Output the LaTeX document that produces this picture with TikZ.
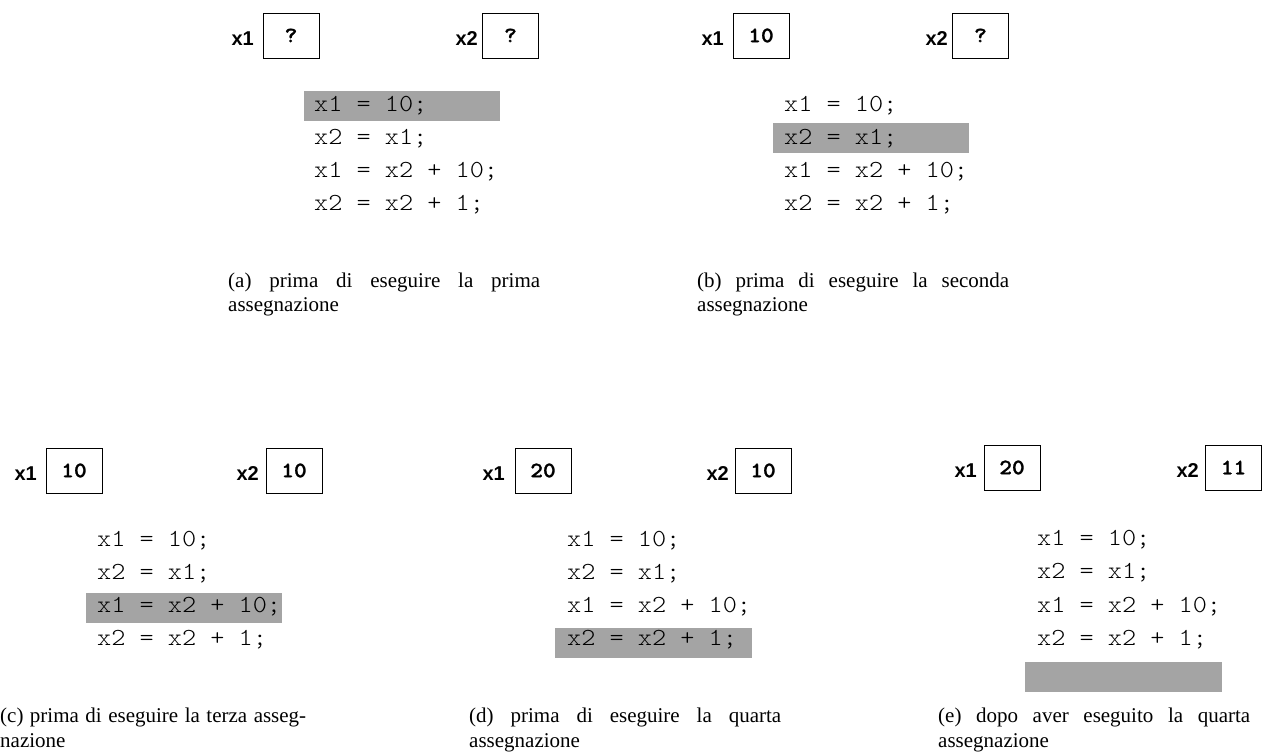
\documentclass[tikz,border=0pt]{standalone}
\usepackage{fontspec}
\setmainfont{Liberation Serif}
\newfontfamily\labfont{Liberation Sans}
\newfontfamily\codefont{lmmonolt10-regular.otf}[FakeStretch=1.1]
\newfontfamily\valfont{lmmonolt10-bold.otf}[FakeStretch=1.1,FakeBold=1.2]
\definecolor{hl}{RGB}{164,164,164}
\tikzset{
  varbox/.style={draw=black, line width=0.9pt, minimum width=56pt, minimum height=45pt, inner sep=0pt, font=\valfont\fontsize{22}{22}\selectfont},
  varlab/.style={anchor=base east, inner sep=0pt, font=\labfont\bfseries\fontsize{20}{20}\selectfont},
  codeline/.style={anchor=base west, inner sep=0pt, font=\codefont\fontsize{24.5}{25}\selectfont},
  capline/.style={anchor=base west, inner sep=0pt, font=\fontsize{21}{25}\selectfont},
  hlbar/.style={fill=hl, draw=none},
}
\begin{document}
\begin{tikzpicture}[x=1pt,y=-1pt]
\useasboundingbox (0,0) rectangle (1279,754);
% ---------- (a)
\fill[hlbar] (304,91) rectangle (500,121);
\node[varlab] (a-l1) at (254,46) {x1};
\node[varbox] (a-b1) at (291,35.5) {?};
\node[varlab] (a-l2) at (478,46) {x2};
\node[varbox] (a-b2) at (510.5,35.5) {?};
\node[codeline] (a-c1) at (314,112) {x1 = 10;};
\node[codeline] (a-c2) at (314,145) {x2 = x1;};
\node[codeline] (a-c3) at (314,178) {x1 = x2 + 10;};
\node[codeline] (a-c4) at (314,211) {x2 = x2 + 1;};
\node[capline] (a-t1) at (228,287) {\makebox[312pt][s]{(a) prima di eseguire la prima}};
\node[capline] (a-t2) at (228,311) {assegnazione};
% ---------- (b)
\fill[hlbar] (773,123) rectangle (969,153);
\node[varlab] (b-l1) at (724,46) {x1};
\node[varbox] (b-b1) at (761,35.5) {10};
\node[varlab] (b-l2) at (948,46) {x2};
\node[varbox] (b-b2) at (980.5,35.5) {?};
\node[codeline] (b-c1) at (784,112) {x1 = 10;};
\node[codeline] (b-c2) at (784,145) {x2 = x1;};
\node[codeline] (b-c3) at (784,178) {x1 = x2 + 10;};
\node[codeline] (b-c4) at (784,211) {x2 = x2 + 1;};
\node[capline] (b-t1) at (697,287) {\makebox[312pt][s]{(b) prima di eseguire la seconda}};
\node[capline] (b-t2) at (697,311) {assegnazione};
% ---------- (c)
\fill[hlbar] (86,593) rectangle (282,623);
\node[varlab] (c-l1) at (37,480) {x1};
\node[varbox] (c-b1) at (74,470.5) {10};
\node[varlab] (c-l2) at (259,480) {x2};
\node[varbox] (c-b2) at (294,470.5) {10};
\node[codeline] (c-c1) at (97,546) {x1 = 10;};
\node[codeline] (c-c2) at (97,579) {x2 = x1;};
\node[codeline] (c-c3) at (97,612) {x1 = x2 + 10;};
\node[codeline] (c-c4) at (97,645) {x2 = x2 + 1;};
\node[capline] (c-t1) at (0,722) {\makebox[306pt][s]{(c) prima di eseguire la terza asseg-}};
\node[capline] (c-t2) at (0,747) {nazione};
% ---------- (d)
\fill[hlbar] (555,628) rectangle (752,658);
\node[varlab] (d-l1) at (505,480) {x1};
\node[varbox] (d-b1) at (543,470.5) {20};
\node[varlab] (d-l2) at (729,480) {x2};
\node[varbox] (d-b2) at (763,470.5) {10};
\node[codeline] (d-c1) at (567,546) {x1 = 10;};
\node[codeline] (d-c2) at (567,579) {x2 = x1;};
\node[codeline] (d-c3) at (567,612) {x1 = x2 + 10;};
\node[codeline] (d-c4) at (567,645) {x2 = x2 + 1;};
\node[capline] (d-t1) at (469,722) {\makebox[312pt][s]{(d) prima di eseguire la quarta}};
\node[capline] (d-t2) at (469,747) {assegnazione};
% ---------- (e)
\fill[hlbar] (1025,662) rectangle (1222,692);
\node[varlab] (e-l1) at (977,477) {x1};
\node[varbox] (e-b1) at (1012,467.5) {20};
\node[varlab] (e-l2) at (1199,477) {x2};
\node[varbox] (e-b2) at (1233.5,467.5) {11};
\node[codeline] (e-c1) at (1037,545) {x1 = 10;};
\node[codeline] (e-c2) at (1037,578) {x2 = x1;};
\node[codeline] (e-c3) at (1037,612) {x1 = x2 + 10;};
\node[codeline] (e-c4) at (1037,645) {x2 = x2 + 1;};
\node[capline] (e-t1) at (938,722) {\makebox[312pt][s]{(e) dopo aver eseguito la quarta}};
\node[capline] (e-t2) at (938,747) {assegnazione};
\end{tikzpicture}
\end{document}
